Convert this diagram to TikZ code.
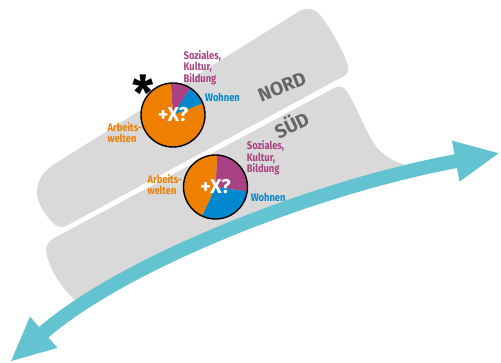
\documentclass[tikz,border=0pt]{standalone}
\usepackage{fontspec}
\setmainfont{Fira Sans}
\newfontfamily\narrowfont{Fira Sans}[FakeStretch=0.85]
\usetikzlibrary{arrows.meta}
\definecolor{BandColor}{RGB}{217,217,217}
\definecolor{ArrowColor}{RGB}{99,195,208}
\definecolor{WorkColor}{RGB}{239,127,0}
\definecolor{SocialColor}{RGB}{170,65,130}
\definecolor{HomeColor}{RGB}{0,137,207}
\definecolor{RegionColor}{RGB}{102,102,102}

\begin{document}
\begin{tikzpicture}[
    x=1pt, y=-1pt,
    every node/.style={font=\bfseries},
    band/.style={fill=BandColor},
    region/.style={font=\fontsize{19}{19}\selectfont\bfseries, text=RegionColor, inner sep=0pt},
    pie/.style={circle, draw, line width=1.4pt, minimum size=64pt, inner sep=0pt, text=white, font=\fontsize{20}{20}\selectfont\bfseries},
    lbl/.style={font=\narrowfont\fontsize{11}{11.2}\selectfont\bfseries, align=left, anchor=north west, inner sep=0pt},
    bigtip/.tip={Triangle[length=45pt, width=38pt]},
]
\useasboundingbox (0,0) rectangle (501,363);

% Bands
\fill[band] (66,226) .. controls (60,229) and (55,226) .. (50,220)
    .. controls (42,210) and (36,200) .. (37,190)
    .. controls (38,178) and (45,170) .. (56,163) -- (298,12)
    .. controls (306,7) and (314,8) .. (320,15)
    .. controls (333,32) and (344,52) .. (348,66)
    .. controls (349,71) and (348,74) .. (344,76) -- cycle;
\fill[band] (56,237) -- (334,88) .. controls (340,85) and (345,87) .. (348,93)
    .. controls (358,110) and (365,130) .. (375,145)
    .. controls (385,158) and (398,164) .. (414,167) -- (414,174)
    .. controls (300,195) and (150,262) .. (85,306)
    .. controls (78,304) and (70,296) .. (63,287)
    .. controls (55,277) and (47,262) .. (46,250)
    .. controls (46,244) and (50,240) .. (56,237) -- cycle;

\node[region, rotate=22] (nord) at (282,87) {NORD};
\node[region, rotate=26] (sued) at (291,124) {SÜD};

% Arrow
\coordinate (west) at (10,362);
\coordinate (east) at (500,153);
\draw[ArrowColor, line width=14pt, bigtip-bigtip] (west) .. controls (120,265) and (310,188) .. (east);

% Pies
\coordinate (nordc) at (173,115);
\coordinate (suedc) at (215.5,187);
\foreach \c/\a/\b/\col in {nordc/-57/-94/SocialColor, nordc/-21/-57/HomeColor, nordc/-94/-381/WorkColor,
    suedc/8/-87/SocialColor, suedc/115/8/HomeColor, suedc/-87/-245/WorkColor}
    \fill[\col] (\c) -- ++(\a:32) arc[start angle=\a, end angle=\b, radius=32] -- cycle;

\node[pie] (nordpie) at (nordc) {+X?};
\node[pie] (suedpie) at (suedc) {+X?};
\node[font=\fontsize{48}{48}\selectfont\bfseries, inner sep=0pt] (star) at (143,93) {*};

% Labels
\node[lbl, text=SocialColor] (nordsoz) at (183.5,50.5) {Soziales,\\Kultur,\\Bildung};
\node[lbl, text=HomeColor] (nordhome) at (205,93) {Wohnen};
\node[lbl, text=WorkColor] (nordwork) at (107.3,122.5) {Arbeits-\\welten};
\node[lbl, text=SocialColor] (suedsoz) at (246.7,140.7) {Soziales,\\Kultur,\\Bildung};
\node[lbl, text=HomeColor] (suedhome) at (250.7,193.3) {Wohnen};
\node[lbl, text=WorkColor] (suedwork) at (147.3,174) {Arbeits-\\welten};

\end{tikzpicture}
\end{document}
